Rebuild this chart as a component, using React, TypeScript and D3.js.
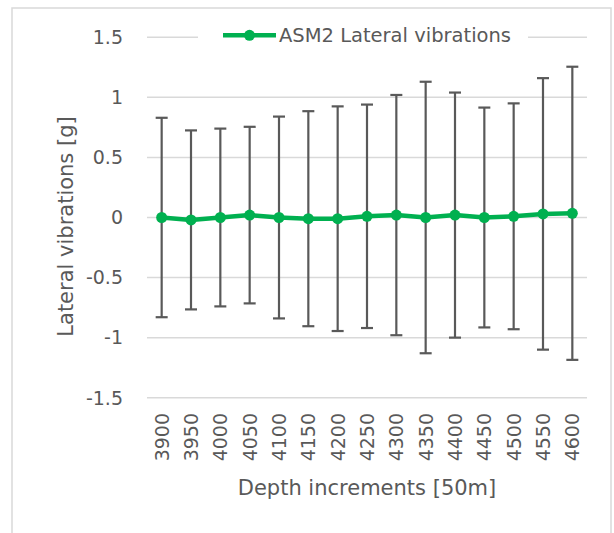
import React from "react";
import * as d3 from "d3";

const categories = ["3900", "3950", "4000", "4050", "4100", "4150", "4200", "4250", "4300", "4350", "4400", "4450", "4500", "4550", "4600"];
const means = [0, -0.02, 0, 0.02, 0, -0.01, -0.01, 0.01, 0.02, 0, 0.02, 0, 0.01, 0.03, 0.035];
const errors = [0.83, 0.745, 0.74, 0.735, 0.84, 0.895, 0.935, 0.93, 1.0, 1.13, 1.02, 0.915, 0.94, 1.13, 1.22];
const yTicks = [-1.5, -1, -0.5, 0, 0.5, 1, 1.5];
const seriesName = "ASM2 Lateral vibrations";
const yTitle = "Lateral vibrations [g]";
const xTitle = "Depth increments [50m]";

const W = 614;
const H = 533;
const plot = { left: 147, right: 587, top: 37.3, bottom: 397.7 };
const font = "'DejaVu Sans', sans-serif";
const textColor = "#595959";
const green = "#00B050";

export default function App() {
  const x = d3.scalePoint<string>().domain(categories).range([plot.left, plot.right]).padding(0.5);
  const y = d3.scaleLinear().domain([-1.5, 1.5]).range([plot.bottom, plot.top]);
  const data = categories.map((c, i) => ({ c, m: means[i], e: errors[i] }));
  const line = d3
    .line<{ c: string; m: number }>()
    .x((d) => x(d.c) as number)
    .y((d) => y(d.m));
  const fmt = (v: number) => (v === 0 ? "0" : String(v));
  const legY = y(1.5);
  const legLineX0 = 223;
  const legLineX1 = 276;

  return (
    <svg
      width={W}
      height={H}
      style={{ position: "absolute", left: 0, top: 0, background: "#fff" }}
      fontFamily={font}
    >
      <rect x={0} y={0} width={W} height={H} fill="#fff" />
      <rect x={12} y={8} width={599} height={540} fill="#fff" stroke="#d9d9d9" strokeWidth={1.5} />
      {yTicks.map((t) => (
        <g key={t}>
          <line x1={plot.left} x2={plot.right} y1={y(t)} y2={y(t)} stroke="#d9d9d9" strokeWidth={1.5} />
          <text x={123} y={y(t)} dy="0.36em" textAnchor="end" fontSize={19} fill={textColor}>
            {fmt(t)}
          </text>
        </g>
      ))}
      {/* legend */}
      <rect x={198} y={legY - 11} width={330} height={22} fill="#fff" />
      <line x1={legLineX0} x2={legLineX1} y1={legY - 2} y2={legY - 2} stroke={green} strokeWidth={4.5} />
      <circle cx={(legLineX0 + legLineX1) / 2} cy={legY - 2} r={5.5} fill={green} />
      <text x={279} y={legY - 2} dy="0.36em" fontSize={19.5} fill={textColor}>
        {seriesName}
      </text>
      {/* error bars */}
      {data.map((d) => {
        const cx = x(d.c) as number;
        return (
          <g key={d.c} stroke="#595959" strokeWidth={2.2}>
            <line x1={cx} x2={cx} y1={y(d.m + d.e)} y2={y(d.m - d.e)} />
            <line x1={cx - 6} x2={cx + 6} y1={y(d.m + d.e)} y2={y(d.m + d.e)} />
            <line x1={cx - 6} x2={cx + 6} y1={y(d.m - d.e)} y2={y(d.m - d.e)} />
          </g>
        );
      })}
      <path d={line(data) || ""} fill="none" stroke={green} strokeWidth={4.5} strokeLinejoin="round" />
      {data.map((d) => (
        <circle key={d.c} cx={x(d.c) as number} cy={y(d.m)} r={5.5} fill={green} />
      ))}
      {/* x tick labels */}
      {categories.map((c) => (
        <text
          key={c}
          transform={`translate(${x(c)},413) rotate(-90)`}
          textAnchor="end"
          dy="0.36em"
          fontSize={19}
          fill={textColor}
        >
          {c}
        </text>
      ))}
      <text x={(plot.left + plot.right) / 2} y={495} textAnchor="middle" fontSize={21} fill={textColor}>
        {xTitle}
      </text>
      <text
        transform={`translate(65,${(plot.top + plot.bottom) / 2 + 9}) rotate(-90)`}
        textAnchor="middle"
        dy="0.36em"
        fontSize={21}
        fill={textColor}
      >
        {yTitle}
      </text>
    </svg>
  );
}
